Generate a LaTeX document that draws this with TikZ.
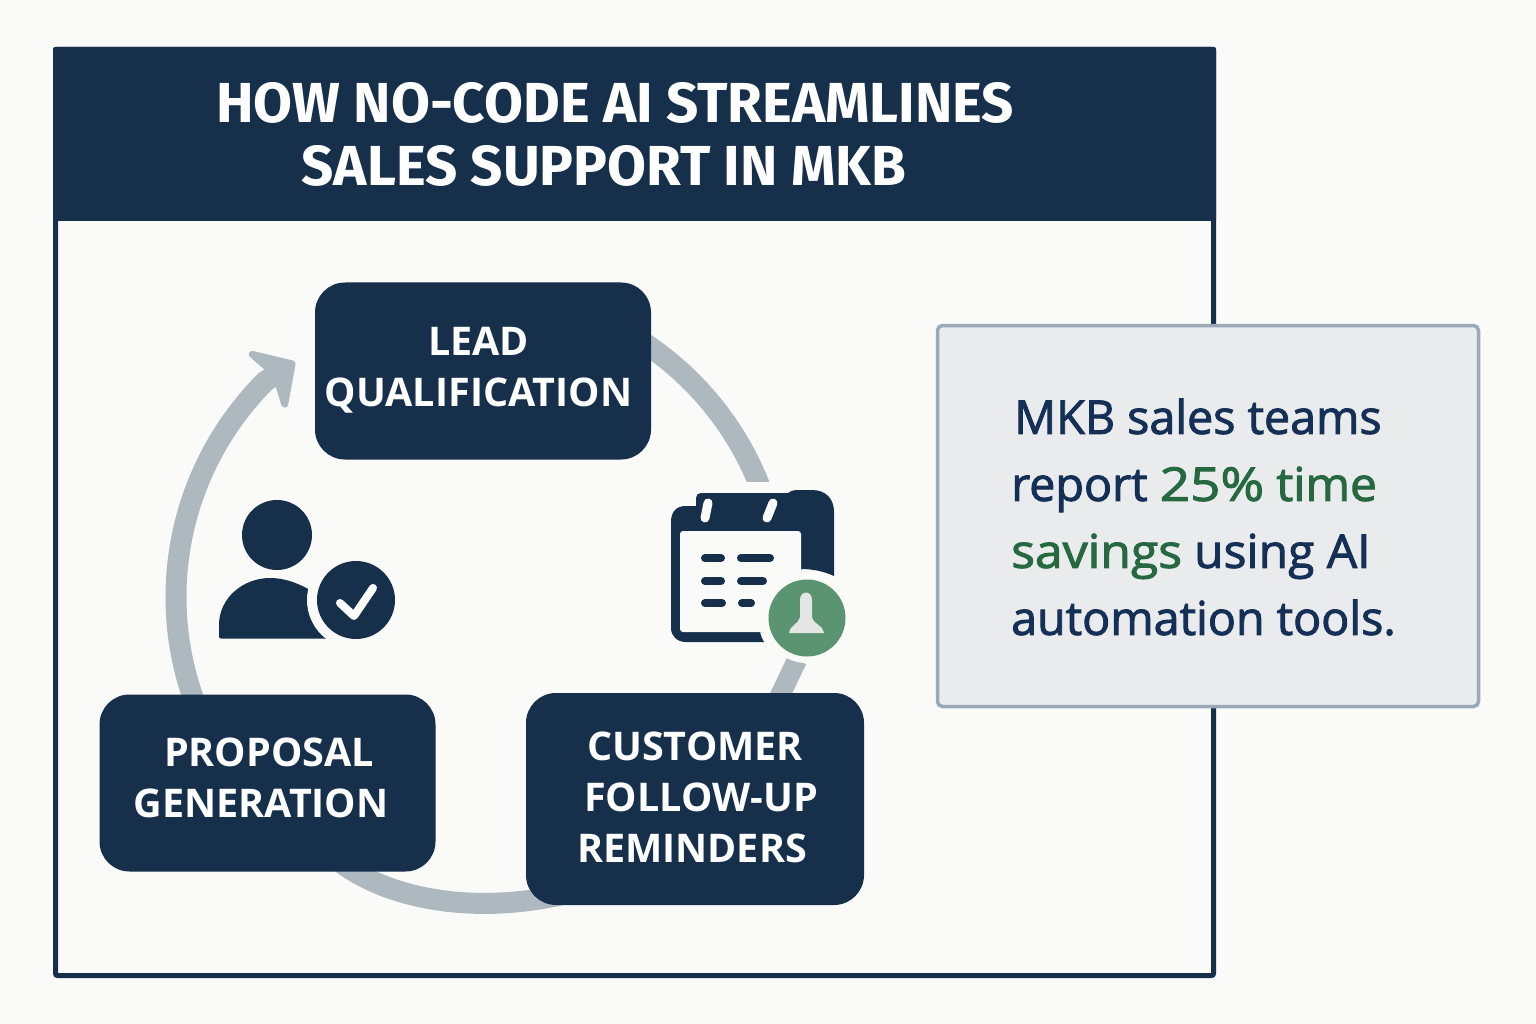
\documentclass[tikz,border=0pt]{standalone}
\usepackage{fontspec}
\setmainfont{Open Sans}
\newfontfamily\firafont{Fira Sans}
\newfontfamily\calfont[FakeBold=2]{Open Sans}
\usetikzlibrary{arrows.meta}
\definecolor{pagebg}{HTML}{FAFAF8}
\definecolor{navy}{HTML}{162F4A}
\definecolor{ringc}{HTML}{AEB8BF}
\definecolor{calloutbg}{HTML}{E9EBEC}
\definecolor{calloutedge}{HTML}{99A9B8}
\definecolor{calltext}{HTML}{153056}
\definecolor{greentext}{HTML}{26683F}
\definecolor{badge}{HTML}{5A9470}
\definecolor{pawn}{HTML}{E4E6E5}
\tikzset{
  x=1pt,y=-1pt,
  flowbox/.style={fill=navy,draw=none,rounded corners=30pt,inner sep=0pt,minimum width=#1},
  boxtext/.style={text=white,font=\fontsize{39.5}{51}\selectfont\bfseries,text width=340pt,align=center,inner sep=0pt},
  titletext/.style={text=white,font=\firafont\fontsize{56.4}{56}\selectfont\bfseries,inner sep=0pt},
  ring/.style={draw=ringc,line width=21pt},
  calline/.style={draw=navy,line width=8pt,line cap=round},
  hole/.style={draw=pagebg,line width=9pt,line cap=round},
}
\begin{document}
\begin{tikzpicture}
\useasboundingbox (0,0) rectangle (1536,1024);
\fill[pagebg] (0,0) rectangle (1536,1024);
\draw[navy,line width=5pt,fill=pagebg,rounded corners=2pt] (55.5,49.5) rectangle (1213.5,975.5);
\fill[navy,rounded corners=2pt] (53,47) rectangle (1216,221);
\node[titletext] (t1) at (615,103) {HOW NO-CODE AI STREAMLINES};
\node[titletext] (t2) at (604,166) {SALES SUPPORT IN MKB};
\coordinate (ringA) at ({475+306*cos(58)},{598-306*sin(58)});
\coordinate (ringD) at (797,660);
\coordinate (ringE) at (776,704);
\coordinate (ringB) at ({481+305*cos(204)},{597-305*sin(204)});
\coordinate (ringC) at (335,858);
\coordinate (ringF) at (590,887);
\coordinate (tipEnd) at (295,362);
\draw[ring] (ringA) arc[start angle=58,end angle=18,radius=306pt];
\fill[pagebg] (735,482) rectangle (785,500);
\draw[ring,line width=20pt] (ringD) -- (ringE);
\draw[ring] (ringC) .. controls (392,905) and (495,917) .. (ringF);
\draw[ring,-{Stealth[length=40pt,width=84pt,inset=12pt,round]}] (ringB) arc[start angle=204,end angle=135,radius=305pt] -- (tipEnd);
\fill[navy] (671,522) .. controls (671,511) and (677,506) .. (686,506) -- (696,506) -- (696,498) .. controls (696,495) and (698,493) .. (701,493)
  -- (788,493) .. controls (792,490) and (795,490) .. (800,490) -- (812,490) .. controls (826,490) and (834,499) .. (834,512)
  -- (834,576) .. controls (823,571) and (812,569) .. (801,569) -- (801,632) -- (760,632) .. controls (761,636) and (762,639) .. (764,642)
  -- (686,642) .. controls (677,642) and (671,636) .. (671,628) -- cycle;
\fill[pagebg,rounded corners=3pt] (680,531) rectangle (801,632);
\draw[hole] (708,503) -- (705,518);
\draw[hole] (773,503) -- (767,518);
\draw[calline] (705,558) -- (721,558);
\draw[calline] (741,558) -- (770,558);
\draw[calline] (705,581) -- (721,581);
\draw[calline] (741,581) -- (763,581);
\draw[calline] (705,603) -- (722,603);
\draw[calline] (742,603) -- (751,603);
\fill[pagebg] (807,618) circle (45);
\fill[badge] (807,618) circle (38.5);
\fill[pawn] (789,633) .. controls (789,626) and (799,624) .. (800,617) -- (800,600) .. controls (800,590) and (812,590) .. (812,600)
  -- (812,617) .. controls (813,624) and (824,626) .. (824,633) -- cycle;
\fill[navy] (277,535) circle (35);
\fill[navy] (221,638.5) .. controls (219.5,638.5) and (219,637.5) .. (219,636) -- (219,625) .. controls (219,598) and (243,578) .. (270,578) .. controls (283,578) and (296,582) .. (310,590) -- (340,650) -- (325,638.5) -- cycle;
\fill[pagebg] (356,600) circle (49);
\fill[pagebg] (320,639) rectangle (345,660);
\fill[navy] (356,600) circle (39);
\draw[white,line width=8pt,line cap=round,line join=round] (340,603) -- (354,616) -- (373,588);
\node[flowbox=336pt,minimum height=177pt] (lead) at (483,371) {};
\node[flowbox=336pt,minimum height=177pt] (prop) at (267.5,783) {};
\node[flowbox=338pt,minimum height=212pt] (cust) at (695,799) {};
\node[boxtext] (leadT) at (478.5,370) {LEAD\\QUALIFICATION};
\node[boxtext] (propT) at (261,778) {\hspace*{16pt}PROPOSAL\\GENERATION};
\node[boxtext] (custT) at (695,797) {CUSTOMER\\\hspace*{12pt}FOLLOW-UP\\\hspace*{-6pt}REMINDERS};
\node[draw=calloutedge,fill=calloutbg,line width=3.5pt,rounded corners=5pt,minimum width=541pt,minimum height=381pt,inner sep=0pt] (callout) at (1208,516) {};
\node[text=calltext,font=\fontsize{46.6}{67}\selectfont\calfont,align=left,anchor=west,inner sep=0pt] (calloutT) at (1011,517) {\hspace*{3pt}MKB sales teams\\report \textcolor{greentext}{\scalebox{1.14}[1]{25\%} \scalebox{1.03}[1]{time}}\\\textcolor{greentext}{\scalebox{1.07}[1]{savings}} \scalebox{1.03}[1]{using AI}\\automation tools.};
\end{tikzpicture}
\end{document}
